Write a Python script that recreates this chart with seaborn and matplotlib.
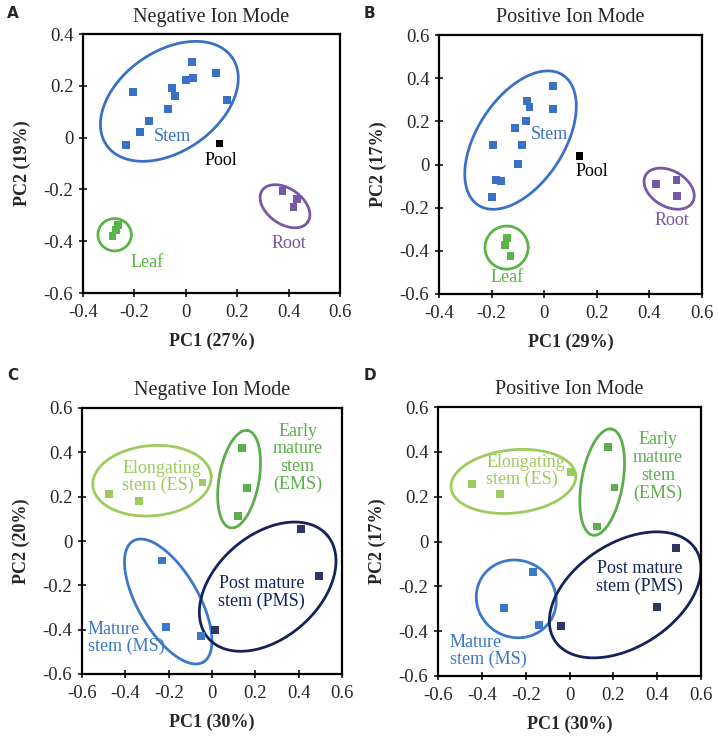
import numpy as np
import pandas as pd
import matplotlib
matplotlib.use("Agg")
import matplotlib.pyplot as plt
import seaborn as sns

sns.set_style("white")
plt.rcParams["font.family"] = ["Liberation Serif", "DejaVu Serif"]
plt.rcParams["axes.unicode_minus"] = False

# ---- A: negative ion mode, tissues
a_group = ["Stem"] * 12 + ["Pool"] + ["Root"] * 3 + ["Leaf"] * 3
a_x = [-0.232, -0.206, -0.178, -0.142, -0.070, -0.055, -0.041, 0.000, 0.024, 0.029, 0.119, 0.160,
       0.131,
       0.376, 0.433, 0.419,
       -0.285, -0.270, -0.265]
a_y = [-0.030, 0.175, 0.020, 0.065, 0.112, 0.190, 0.162, 0.221, 0.292, 0.229, 0.251, 0.146,
       -0.023,
       -0.206, -0.236, -0.268,
       -0.379, -0.357, -0.339]

# ---- B: positive ion mode, tissues
b_group = ["Stem"] * 12 + ["Pool"] + ["Root"] * 3 + ["Leaf"] * 3
b_x = [-0.195, -0.197, -0.184, -0.165, -0.110, -0.101, -0.085, -0.068, -0.066, -0.056, 0.032, 0.032,
       0.134,
       0.425, 0.503, 0.506,
       -0.142, -0.149, -0.128]
b_y = [0.089, -0.152, -0.072, -0.076, 0.168, 0.001, 0.089, 0.200, 0.293, 0.266, 0.257, 0.364,
       0.041,
       -0.089, -0.072, -0.144,
       -0.339, -0.373, -0.424]

# ---- C: negative ion mode, stem stages
c_group = ["ES"] * 3 + ["EMS"] * 3 + ["MS"] * 3 + ["PMS"] * 3
c_x = [-0.474, -0.338, -0.044, 0.137, 0.160, 0.120, -0.231, -0.212, -0.049, 0.411, 0.495, 0.012]
c_y = [0.213, 0.181, 0.264, 0.421, 0.240, 0.111, -0.088, -0.389, -0.427, 0.056, -0.156, -0.403]

# ---- D: positive ion mode, stem stages
d_group = ["ES"] * 3 + ["EMS"] * 3 + ["MS"] * 3 + ["PMS"] * 3
d_x = [-0.445, -0.319, 0.008, 0.175, 0.205, 0.126, -0.165, -0.299, -0.141, 0.487, 0.398, -0.038]
d_y = [0.256, 0.212, 0.310, 0.421, 0.241, 0.067, -0.135, -0.297, -0.372, -0.029, -0.291, -0.377]

tissue_pal = {"Stem": "#3A70C6", "Pool": "#000000", "Root": "#7758A6", "Leaf": "#5BB447"}
stage_pal = {"ES": "#9CCB5E", "EMS": "#5AAE4B", "MS": "#3D77C9", "PMS": "#2A3866"}
stage_line = {"ES": "#9CCB5E", "EMS": "#5AAE4B", "MS": "#3D77C9", "PMS": "#14245A"}

W, H = 718, 740
fig = plt.figure(figsize=(W / 100, H / 100), dpi=100)


def draw_ellipse(ax, cx, cy, a, b, ang, color):
    # a, b in x-data units, angle measured on screen
    bb = ax.get_position()
    x0, x1 = ax.get_xlim()
    y0, y1 = ax.get_ylim()
    k = (bb.width * W / (x1 - x0)) / (bb.height * H / (y1 - y0))
    t = np.linspace(0, 2 * np.pi, 300)
    th = np.radians(ang)
    u, v = a * np.cos(t), b * np.sin(t)
    dx = u * np.cos(th) - v * np.sin(th)
    dy = (u * np.sin(th) + v * np.cos(th)) * k
    ax.plot(cx + dx, cy + dy, color=color, lw=2.0)


def setup(ax, xlim, ylim, xticks, yticks, title, xlabel, ylabel):
    ax.set_xlim(xlim)
    ax.set_ylim(ylim)
    ax.set_xticks(xticks)
    ax.set_yticks(yticks)
    ax.set_xticklabels([("%g" % t) if t != 0 else "0" for t in xticks])
    ax.set_yticklabels([("%g" % t) if t != 0 else "0" for t in yticks])
    ax.tick_params(bottom=True, left=True, direction="inout", length=6, width=1.3,
                   labelsize=13.5)
    ax.tick_params(axis="x", pad=5)
    ax.tick_params(axis="y", pad=4)
    for s in ax.spines.values():
        s.set_color("black")
        s.set_linewidth(1.6)
    ax.set_title(title, fontsize=14.5, pad=9)
    ax.set_xlabel(xlabel, fontsize=13, fontweight="bold", labelpad=8)
    ax.set_ylabel(ylabel, fontsize=13, fontweight="bold", labelpad=9)


def scatter(ax, x, y, g, pal):
    df = pd.DataFrame({"x": x, "y": y, "g": g})
    sns.scatterplot(data=df, x="x", y="y", hue="g", palette=pal, marker="s", s=32,
                    linewidth=0, legend=False, ax=ax, zorder=3)


# ---------- A
axA = fig.add_axes([83 / W, 1 - 293 / H, 257 / W, 259 / H])
setup(axA, (-0.4, 0.6), (-0.6, 0.4), [-0.4, -0.2, 0, 0.2, 0.4, 0.6],
      [-0.6, -0.4, -0.2, 0, 0.2, 0.4], "Negative Ion Mode", "PC1 (27%)", "PC2 (19%)")
scatter(axA, a_x, a_y, a_group, tissue_pal)
draw_ellipse(axA, -0.064, 0.140, 0.298, 0.194, 35, tissue_pal["Stem"])
draw_ellipse(axA, 0.386, -0.265, 0.108, 0.069, -35, tissue_pal["Root"])
draw_ellipse(axA, -0.277, -0.375, 0.065, 0.063, 0, tissue_pal["Leaf"])
axA.text(-0.052, 0.005, "Stem", color=tissue_pal["Stem"], fontsize=13, ha="center", va="center")
axA.text(0.136, -0.089, "Pool", color="black", fontsize=13, ha="center", va="center")
axA.text(0.402, -0.407, "Root", color=tissue_pal["Root"], fontsize=13, ha="center", va="center")
axA.text(-0.151, -0.484, "Leaf", color=tissue_pal["Leaf"], fontsize=13, ha="center", va="center")

# ---------- B
axB = fig.add_axes([439 / W, 1 - 294 / H, 263 / W, 259 / H])
setup(axB, (-0.4, 0.6), (-0.6, 0.6), [-0.4, -0.2, 0, 0.2, 0.4, 0.6],
      [-0.6, -0.4, -0.2, 0, 0.2, 0.4, 0.6], "Positive Ion Mode", "PC1 (29%)", "PC2 (17%)")
scatter(axB, b_x, b_y, b_group, tissue_pal)
draw_ellipse(axB, -0.090, 0.113, 0.295, 0.165, 57, tissue_pal["Stem"])
draw_ellipse(axB, 0.475, -0.112, 0.103, 0.068, -30, tissue_pal["Root"])
draw_ellipse(axB, -0.143, -0.385, 0.082, 0.082, 0, tissue_pal["Leaf"])
axB.text(0.019, 0.137, "Stem", color=tissue_pal["Stem"], fontsize=13, ha="center", va="center")
axB.text(0.180, -0.033, "Pool", color="black", fontsize=13, ha="center", va="center")
axB.text(0.487, -0.260, "Root", color=tissue_pal["Root"], fontsize=13, ha="center", va="center")
axB.text(-0.141, -0.524, "Leaf", color=tissue_pal["Leaf"], fontsize=13, ha="center", va="center")

# ---------- C
axC = fig.add_axes([82 / W, 1 - 674 / H, 260 / W, 266 / H])
ticks6 = [-0.6, -0.4, -0.2, 0, 0.2, 0.4, 0.6]
setup(axC, (-0.6, 0.6), (-0.6, 0.6), ticks6, ticks6, "Negative Ion Mode", "PC1 (30%)", "PC2 (20%)")
scatter(axC, c_x, c_y, c_group, stage_pal)
draw_ellipse(axC, -0.277, 0.272, 0.274, 0.162, 5, stage_line["ES"])
draw_ellipse(axC, 0.125, 0.279, 0.228, 0.092, 80, stage_line["EMS"])
draw_ellipse(axC, -0.202, -0.273, 0.323, 0.140, -60, stage_line["MS"])
draw_ellipse(axC, 0.257, -0.206, 0.363, 0.238, 41, stage_line["PMS"])
axC.text(-0.415, 0.290, "Elongating\nstem (ES)", color=stage_line["ES"], fontsize=13,
         ha="left", va="center", linespacing=1.0)
axC.text(0.395, 0.376, "Early\nmature\nstem\n(EMS)", color=stage_line["EMS"], fontsize=13,
         ha="center", va="center", linespacing=1.05)
axC.text(0.229, -0.231, "Post mature\nstem (PMS)", color=stage_line["PMS"], fontsize=13,
         ha="center", va="center", linespacing=1.05)
axC.text(-0.574, -0.439, "Mature\nstem (MS)", color=stage_line["MS"], fontsize=13,
         ha="left", va="center", linespacing=1.0)

# ---------- D
axD = fig.add_axes([438 / W, 1 - 676 / H, 263 / W, 269 / H])
setup(axD, (-0.6, 0.6), (-0.6, 0.6), ticks6, ticks6, "Positive Ion Mode", "PC1 (30%)", "PC2 (17%)")
scatter(axD, d_x, d_y, d_group, stage_pal)
draw_ellipse(axD, -0.256, 0.268, 0.286, 0.144, 6, stage_line["ES"])
draw_ellipse(axD, 0.149, 0.265, 0.246, 0.094, 80, stage_line["EMS"])
draw_ellipse(axD, -0.243, -0.256, 0.185, 0.175, -30, stage_line["MS"])
draw_ellipse(axD, 0.254, -0.238, 0.383, 0.236, 33, stage_line["PMS"])
axD.text(-0.380, 0.313, "Elongating\nstem (ES)", color=stage_line["ES"], fontsize=13,
         ha="left", va="center", linespacing=1.0)
axD.text(0.403, 0.335, "Early\nmature\nstem\n(EMS)", color=stage_line["EMS"], fontsize=13,
         ha="center", va="center", linespacing=1.05)
axD.text(0.321, -0.159, "Post mature\nstem (PMS)", color=stage_line["PMS"], fontsize=13,
         ha="center", va="center", linespacing=1.05)
axD.text(-0.547, -0.489, "Mature\nstem (MS)", color=stage_line["MS"], fontsize=13,
         ha="left", va="center", linespacing=1.0)

# panel letters
for lbl, px, py in [("A", 7, 13), ("B", 364, 13), ("C", 7, 376), ("D", 364, 376)]:
    fig.text(px / W, 1 - py / H, lbl, fontsize=11, fontweight="bold",
             family="DejaVu Sans", va="center", ha="left")

fig.savefig("out.png", dpi=100)
